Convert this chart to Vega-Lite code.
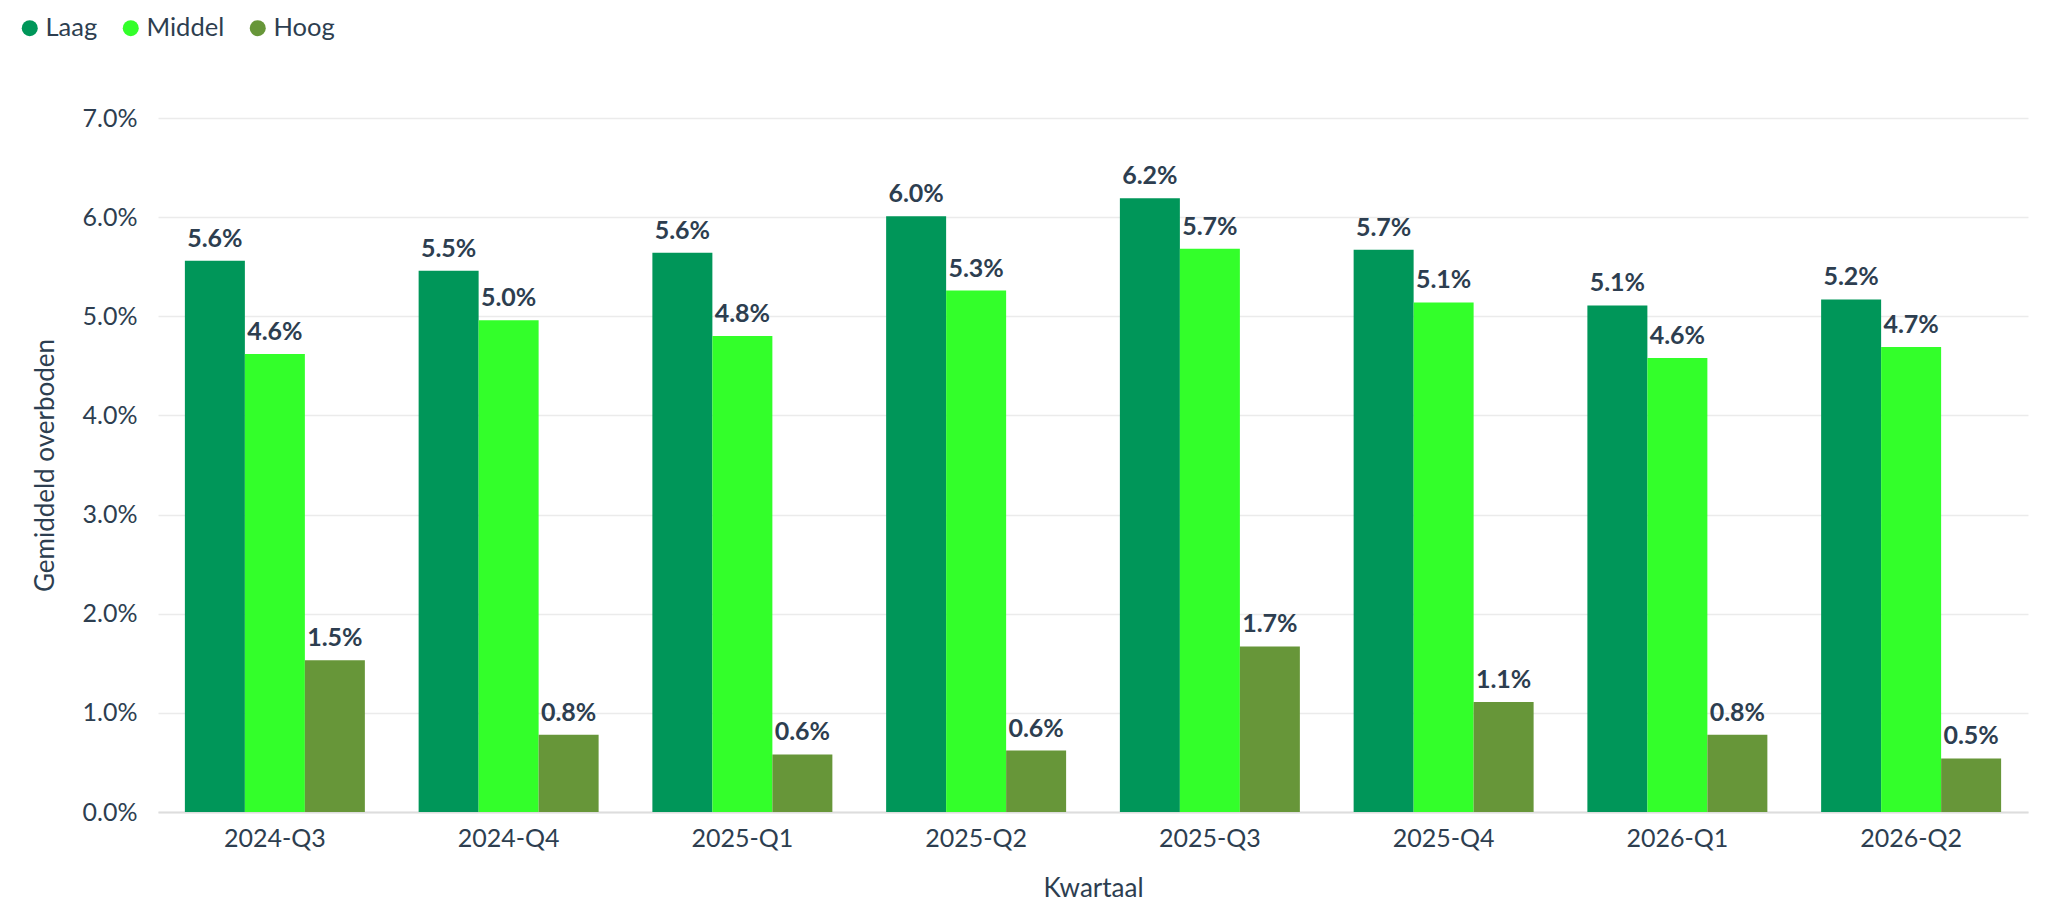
{
  "$schema": "https://vega.github.io/schema/vega-lite/v6.json",
  "width": 1870,
  "height": 694,
  "autosize": {"type": "none"},
  "padding": {"left": 158, "top": 118, "right": 34, "bottom": 102},
  "background": "white",
  "config": {
    "font": "Lato",
    "view": {"stroke": null},
    "axis": {
      "labelFont": "Lato",
      "titleFont": "Lato",
      "labelFontSize": 25,
      "titleFontSize": 26,
      "titleFontWeight": "normal",
      "labelColor": "#2d3e50",
      "titleColor": "#2d3e50"
    },
    "legend": {
      "labelFont": "Lato",
      "labelFontSize": 25.5,
      "labelColor": "#2d3e50"
    }
  },
  "data": {
    "values": [
      {"quarter": "2024-Q3", "level": "Laag", "value": 0.0556},
      {"quarter": "2024-Q3", "level": "Middel", "value": 0.0462},
      {"quarter": "2024-Q3", "level": "Hoog", "value": 0.0153},
      {"quarter": "2024-Q4", "level": "Laag", "value": 0.0546},
      {"quarter": "2024-Q4", "level": "Middel", "value": 0.0496},
      {"quarter": "2024-Q4", "level": "Hoog", "value": 0.0078},
      {"quarter": "2025-Q1", "level": "Laag", "value": 0.0564},
      {"quarter": "2025-Q1", "level": "Middel", "value": 0.048},
      {"quarter": "2025-Q1", "level": "Hoog", "value": 0.0058},
      {"quarter": "2025-Q2", "level": "Laag", "value": 0.0601},
      {"quarter": "2025-Q2", "level": "Middel", "value": 0.0526},
      {"quarter": "2025-Q2", "level": "Hoog", "value": 0.0062},
      {"quarter": "2025-Q3", "level": "Laag", "value": 0.0619},
      {"quarter": "2025-Q3", "level": "Middel", "value": 0.0568},
      {"quarter": "2025-Q3", "level": "Hoog", "value": 0.0167},
      {"quarter": "2025-Q4", "level": "Laag", "value": 0.0567},
      {"quarter": "2025-Q4", "level": "Middel", "value": 0.0514},
      {"quarter": "2025-Q4", "level": "Hoog", "value": 0.0111},
      {"quarter": "2026-Q1", "level": "Laag", "value": 0.0511},
      {"quarter": "2026-Q1", "level": "Middel", "value": 0.0458},
      {"quarter": "2026-Q1", "level": "Hoog", "value": 0.0078},
      {"quarter": "2026-Q2", "level": "Laag", "value": 0.0517},
      {"quarter": "2026-Q2", "level": "Middel", "value": 0.0469},
      {"quarter": "2026-Q2", "level": "Hoog", "value": 0.0054}
    ]
  },
  "encoding": {
    "x": {
      "field": "quarter",
      "type": "nominal",
      "title": "Kwartaal",
      "scale": {"paddingInner": 0.23, "paddingOuter": 0.115},
      "axis": {
        "labelAngle": 0,
        "ticks": false,
        "domain": true,
        "domainColor": "#dddddd",
        "domainWidth": 2,
        "grid": false,
        "labelPadding": 14,
        "titlePadding": 24
      }
    },
    "xOffset": {"field": "level", "type": "nominal", "sort": ["Laag", "Middel", "Hoog"]},
    "y": {
      "field": "value",
      "type": "quantitative",
      "title": "Gemiddeld overboden",
      "scale": {"domain": [0, 0.07]},
      "axis": {
        "format": ".1%",
        "values": [0, 0.01, 0.02, 0.03, 0.04, 0.05, 0.06, 0.07],
        "domain": false,
        "ticks": false,
        "grid": true,
        "gridColor": "#ebebeb",
        "gridWidth": 1.5,
        "labelPadding": 21,
        "titlePadding": 24
      }
    }
  },
  "layer": [
    {
      "mark": {"type": "bar"},
      "encoding": {
        "color": {
          "field": "level",
          "type": "nominal",
          "sort": ["Laag", "Middel", "Hoog"],
          "scale": {"domain": ["Laag", "Middel", "Hoog"], "range": ["#009659", "#33ff2a", "#679639"]},
          "legend": {
            "title": null,
            "orient": "none",
            "direction": "horizontal",
            "legendX": -141,
            "legendY": -103,
            "symbolType": "circle",
            "symbolSize": 256,
            "symbolStrokeWidth": 0,
            "labelOffset": 3,
            "columnPadding": 20
          }
        }
      }
    },
    {
      "mark": {
        "type": "text",
        "baseline": "alphabetic",
        "dy": -14,
        "fontWeight": "bold",
        "fontSize": 25,
        "font": "Lato",
        "color": "#2d3e50"
      },
      "encoding": {
        "text": {"field": "value", "type": "quantitative", "format": ".1%"}
      }
    }
  ]
}
